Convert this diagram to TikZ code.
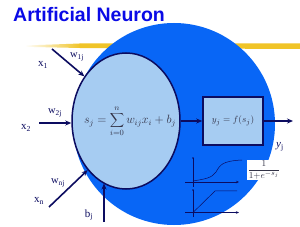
\documentclass[tikz,border=0pt]{standalone}
\usepackage{fontspec}
\setmainfont{Liberation Serif}
\newfontfamily\titlefont{Liberation Sans}
\usetikzlibrary{arrows.meta,shapes.geometric}
\definecolor{bigblue}{RGB}{8,102,246}
\definecolor{lightb}{RGB}{166,204,242}
\definecolor{navy}{RGB}{12,12,96}
\definecolor{titleblue}{RGB}{10,10,230}
\definecolor{hl}{RGB}{240,196,40}
\definecolor{fgray}{RGB}{50,50,70}
\begin{document}
\begin{tikzpicture}[x=1pt,y=-1pt,
  arr/.style={navy, line width=1.6pt, -{Stealth[length=6pt,width=5pt]}},
  lbl/.style={navy, font=\fontsize{11}{11}\selectfont, inner sep=0pt},
  wlbl/.style={navy, font=\fontsize{10.5}{10.5}\selectfont, inner sep=0pt},
  ax/.style={navy, line width=0.5pt},
  axarr/.style={ax, -{Stealth[length=3pt,width=2.5pt]}},
  mathtxt/.style={text=fgray, inner sep=0pt}]
\useasboundingbox (0,0) rectangle (300,227);
\fill[white] (0,0) rectangle (300,227);
% title
\node[anchor=west, text=titleblue, inner sep=0pt,
      font=\titlefont\bfseries\fontsize{19.5}{20}\selectfont] (title) at (13,15) {Artificial Neuron};
% highlighter stroke
\shade[left color=white, right color=hl] (25,45.5) -- (80,43.5) -- (80,48) -- (25,46.8) -- cycle;
\fill[hl] (79.5,43.5) -- (300,43.5) -- (300,49) -- (79.5,48) -- cycle;
% body
\node[circle, fill=bigblue, minimum size=202pt, inner sep=0pt] (body) at (174,124) {};
\node[ellipse, draw=navy, line width=1.5pt, fill=lightb, minimum width=108pt,
      minimum height=136pt, inner sep=0pt] (neuron) at (126,121) {};
\node[mathtxt, font=\fontsize{12}{12}\selectfont] (sum) at (130,121)
  {$s_j=\displaystyle\sum_{i=0}^{n} w_{ij}x_i+b_j$};
\node[draw=navy, line width=1.6pt, fill=lightb, minimum width=60pt, minimum height=48pt,
      inner sep=0pt, text=fgray, font=\fontsize{9.5}{10}\selectfont] (act) at (233,121) {$y_j=f(s_j)$};
\draw[arr] (neuron.east) -- (act.west);
\coordinate (yout) at (293,121);
\draw[arr] (act.east) -- (yout);
\node[lbl] (yj) at (280,147) {\textit{y}\textsubscript{j}};
% inputs
\node[lbl] (x1) at (43,65) {x\textsubscript{1}};
\node[wlbl] (w1) at (77,57) {w\textsubscript{1j}};
\coordinate (x1s) at (52,49);
\draw[arr] (x1s) -- (neuron.133);
\node[lbl] (x2) at (26,128) {x\textsubscript{2}};
\node[wlbl] (w2) at (55,113) {w\textsubscript{2j}};
\coordinate (x2s) at (39,123);
\draw[arr] (x2s) -- (x2s -| neuron.west);
\node[lbl] (xn) at (39,201) {x\textsubscript{n}};
\node[wlbl] (wn) at (58,183) {w\textsubscript{nj}};
\coordinate (xns) at (49,207);
\draw[arr] (xns) -- (neuron.232);
\node[lbl] (bj) at (89,215) {b\textsubscript{j}};
\coordinate (bjs) at (104,222);
\draw[arr] (bjs) -- (bjs |- neuron.250.5);
% activation graphs
\draw[axarr] (185,182) -- (239,182);
\draw[ax] (193,187) -- (193,158);
\fill[navy] (193,158) circle (0.9);
\draw[ax] (193,181) .. controls (205,179) and (212,178) .. (216,172)
      .. controls (220,165) and (222,161) .. (242,160);
\draw[axarr] (185,212.5) -- (239,212.5);
\draw[ax] (193,217) -- (193,190);
\fill[navy] (193,190) circle (0.9);
\draw[ax] (193,212.5) -- (215,191) -- (237,191);
\node[mathtxt, fill=white, inner sep=1pt, font=\fontsize{9.5}{9.5}\selectfont] (frac) at (264,170)
  {$\displaystyle\frac{1}{1{+}e^{-s_j}}$};
\end{tikzpicture}
\end{document}
